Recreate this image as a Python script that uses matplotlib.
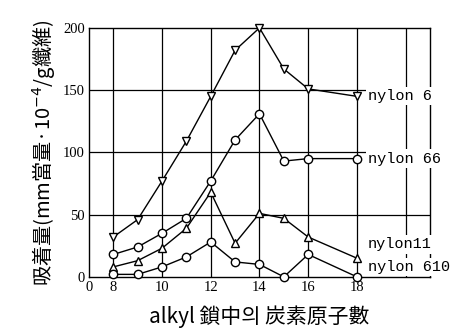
import numpy as np
import matplotlib.pyplot as plt

plt.rcParams['font.family'] = ['Liberation Serif', 'Noto Sans CJK KR', 'DejaVu Sans']

carbons = [8, 9, 10, 11, 12, 13, 14, 15, 16, 18]
nylon6 = [32, 46, 77, 109, 145, 182, 200, 167, 151, 145]
nylon66 = [18, 24, 35, 47, 77, 110, 131, 93, 95, 95]
nylon11 = [8, 13, 23, 39, 68, 27, 51, 47, 32, 15]
nylon610 = [2, 2, 8, 16, 28, 12, 10, 0, 18, 0]

series = [
    ('nylon 6', nylon6, 'v', 145),
    ('nylon 66', nylon66, 'o', 95),
    ('nylon11', nylon11, '^', 26),
    ('nylon 610', nylon610, 'o', 8),
]

fig = plt.figure(figsize=(4.56, 3.36), dpi=100)
ax = fig.add_axes([0.195, 0.176, 0.748, 0.741])

for x in range(8, 21, 2):
    ax.axvline(x, color='black', lw=0.9, zorder=1)
for y in (50, 100, 150):
    ax.axhline(y, color='black', lw=0.9, zorder=1)

for name, vals, mk, ylab in series:
    ax.plot(carbons, vals, color='black', lw=1.0, marker=mk, ms=6,
            mfc='white', mec='black', mew=1.0, zorder=3, clip_on=False)
    ax.text(18.45, ylab, name, family='Liberation Mono', fontsize=11,
            va='center', ha='left', zorder=5, clip_on=False,
            bbox=dict(facecolor='white', edgecolor='none', pad=1.5))

ax.set_xlim(7, 21)
ax.set_ylim(0, 200)
ax.set_xticks([7, 8, 10, 12, 14, 16, 18])
ax.set_xticklabels(['0', '8', '10', '12', '14', '16', '18'])
ax.set_yticks([0, 50, 100, 150, 200])
ax.tick_params(length=0, labelsize=10.5, pad=3)
for s in ax.spines.values():
    s.set_linewidth(1.0)
    s.set_zorder(2)

ax.set_ylabel('吸着量(mm當量·10$^{-4}$/g纖維)', family=['Noto Sans CJK KR', 'DejaVu Sans'],
              fontsize=14.5, labelpad=4)
ax.set_xlabel('alkyl 鎖中의 炭素原子數', family=['Noto Sans CJK KR', 'DejaVu Sans'],
              fontsize=15, labelpad=8)

fig.savefig('out.png', dpi=100)
